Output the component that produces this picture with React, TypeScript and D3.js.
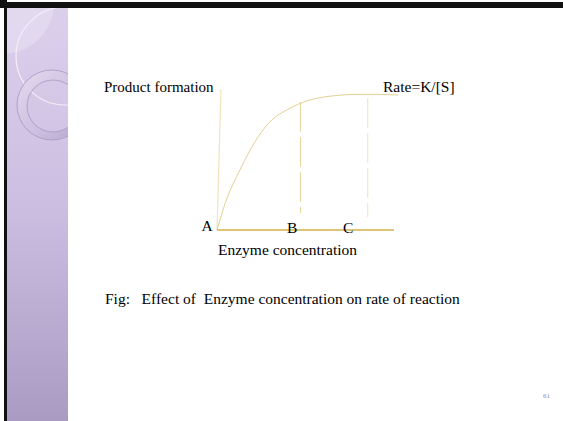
import React from "react";
import * as d3 from "d3";

const W = 563;
const H = 421;

// Curve: enzyme concentration (x) vs product formation (y), arbitrary units 0..100
const curveX = [0, 4.5, 12.7, 22.8, 30.2, 38.5, 45.9, 55.1, 64.3, 77.2, 88.3, 100.2];
const curveY = [0, 18.9, 42.6, 66.2, 78.0, 85.1, 89.8, 93.4, 95.2, 96.2, 96.2, 95.7];
const axisXEnd = 97.8;
const yAxisTop = 100;
const markerLabels = ["A", "B", "C"];
const markerX = [0, 46.1, 83.3];
const dropTop = [0, 90.8, 93.6];
const dropBottom = [0, 12, 9.2];

const sx = d3.scaleLinear().domain([0, 100]).range([217, 398]);
const sy = d3.scaleLinear().domain([0, 100]).range([230, 89]);

export default function App() {
  const line = d3
    .line<number>()
    .x((_, i) => sx(curveX[i]))
    .y((d) => sy(d))
    .curve(d3.curveMonotoneX);
  const pathD = line(curveY) || "";
  const serif = "'Liberation Serif', 'Times New Roman', serif";
  const sideX0 = 7;
  const sideX1 = 68;
  return (
    <svg
      width={W}
      height={H}
      style={{ position: "absolute", left: 0, top: 0, display: "block" }}
    >
      <defs>
        <linearGradient id="side" x1="0" y1="0" x2="0" y2="1">
          <stop offset="0" stopColor="#dbd0ec" />
          <stop offset="0.5" stopColor="#cbbde0" />
          <stop offset="1" stopColor="#aa9bc3" />
        </linearGradient>
        <linearGradient id="ringg" x1="0" y1="0" x2="1" y2="1">
          <stop offset="0" stopColor="#e6ddf1" />
          <stop offset="0.6" stopColor="#cbbedf" />
          <stop offset="1" stopColor="#b3a3cb" />
        </linearGradient>
        <clipPath id="sideclip">
          <rect x={sideX0} y={8} width={sideX1 - sideX0} height={H - 8} />
        </clipPath>
      </defs>
      <rect x={0} y={0} width={W} height={H} fill="#ffffff" />
      {/* sidebar */}
      <rect x={sideX0} y={8} width={sideX1 - sideX0} height={H - 8} fill="url(#side)" />
      <g clipPath="url(#sideclip)">
        <circle cx={3} cy={3} r={51} fill="#e2d9ef" opacity={0.9} />
        <circle cx={65} cy={56} r={49} fill="none" stroke="#f2eef8" strokeWidth={1.2} />
        <path
          d="M 52 70 A 35 35 0 1 0 52.01 140 A 35 35 0 1 0 52 70 Z M 53 80 A 26 26 0 1 1 52.99 132 A 26 26 0 1 1 53 80 Z"
          fill="url(#ringg)"
          fillRule="evenodd"
          stroke="#a393bc"
          strokeWidth={0.8}
          opacity={0.9}
        />
      </g>
      {/* black frame */}
      <rect x={0} y={2} width={W} height={6} fill="#111111" />
      <rect x={4} y={0} width={3} height={H} fill="#111111" />
      <rect x={0} y={0} width={7} height={8} fill="#111111" />

      {/* axes */}
      <line
        x1={sx(0)}
        y1={sy(0)}
        x2={sx(2.2)}
        y2={sy(yAxisTop)}
        stroke="#efe4bd"
        strokeWidth={1.2}
      />
      {/* drop lines */}
      {markerX.slice(1).map((m, i) => (
        <line
          key={i}
          x1={sx(m)}
          x2={sx(m)}
          y1={sy(dropTop[i + 1])}
          y2={sy(dropBottom[i + 1])}
          stroke={i === 0 ? "#e4d39a" : "#efe3bb"}
          strokeWidth={1}
          strokeDasharray="30 5"
        />
      ))}
      <path d={pathD} fill="none" stroke="#e3d194" strokeWidth={1} />
      <line
        x1={sx(0)}
        y1={sy(0)}
        x2={sx(axisXEnd)}
        y2={sy(0)}
        stroke="#d3b24a"
        strokeWidth={1.4}
      />

      <g fontFamily={serif} fill="#000" fontSize={15.5}>
        <text x={104} y={92} fontSize={15}>Product formation</text>
        <text x={383} y={92}>Rate=K/[S]</text>
        {markerLabels.map((l, i) => (
          <text
            key={l}
            x={i === 0 ? 201.5 : i === 1 ? 287 : 343}
            y={i === 0 ? 231 : 233}
          >
            {l}
          </text>
        ))}
        <text x={218} y={255}>Enzyme concentration</text>
        <text x={105} y={304} style={{ whiteSpace: "pre" }}>
          {"Fig:   Effect of  Enzyme concentration on rate of reaction"}
        </text>
      </g>
      <text x={543} y={398} fontFamily={serif} fontSize={7} fill="#8d89a8">
        61
      </text>
    </svg>
  );
}
